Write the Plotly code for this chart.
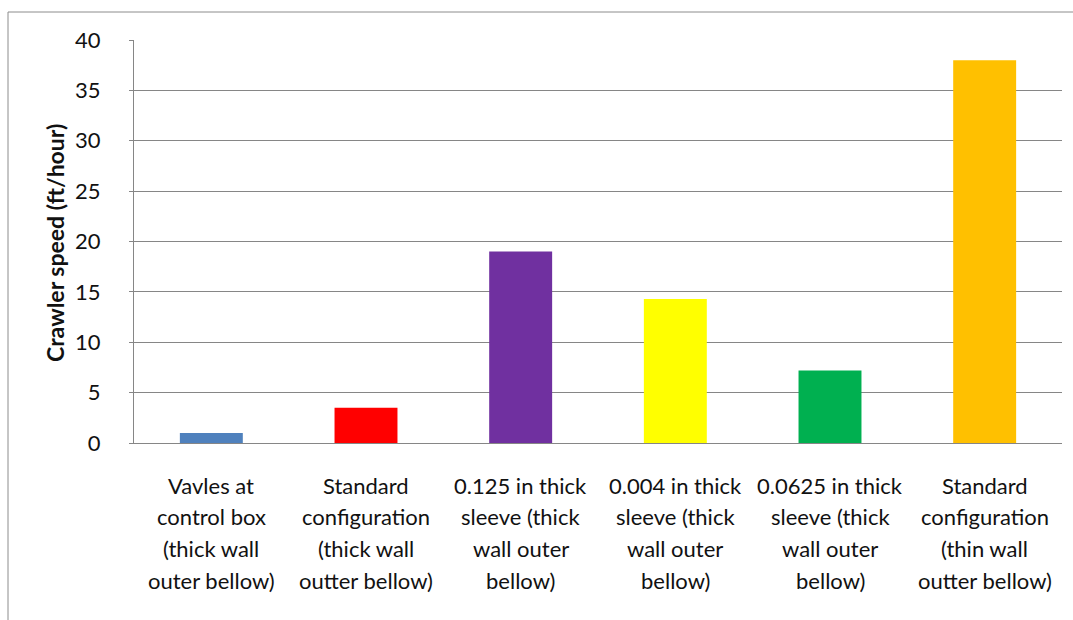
import plotly.graph_objects as go

# Crawler speed for each test configuration
categories = [
    "Vavles at<br>control box<br>(thick wall<br>outer bellow)",
    "Standard<br>configuration<br>(thick wall<br>outter bellow)",
    "0.125 in thick<br>sleeve (thick<br>wall outer<br>bellow)",
    "0.004 in thick<br>sleeve (thick<br>wall outer<br>bellow)",
    "0.0625 in thick<br>sleeve (thick<br>wall outer<br>bellow)",
    "Standard<br>configuration<br>(thin wall<br>outter bellow)",
]
speeds = [1.0, 3.5, 19.0, 14.3, 7.2, 38.0]
bar_colors = ["#4F81BD", "#FF0000", "#7030A0", "#FFFF00", "#00B050", "#FFC000"]
y_ticks = [0, 5, 10, 15, 20, 25, 30, 35, 40]

FONT = "Lato"
TEXT = "#111111"
W, H = 1073, 620
ML, MR, MT, MB = 134, 11, 40, 177
plot_w = W - ML - MR
plot_h = H - MT - MB

fig = go.Figure(
    go.Bar(
        x=categories,
        y=speeds,
        marker=dict(color=bar_colors, line=dict(width=0)),
        hoverinfo="x+y",
    )
)

# Multi-line category labels, one annotation per line for looser line spacing
line_gap = 31.7
first_offset = 42
for cat in categories:
    for i, line in enumerate(cat.split("<br>")):
        fig.add_annotation(
            x=cat, xref="x", y=0, yref="paper",
            text=line, showarrow=False,
            xanchor="center", yanchor="middle",
            yshift=-(first_offset + i * line_gap),
            font=dict(family=FONT, size=22, color=TEXT),
        )

# Rotated y-axis title
fig.add_annotation(
    x=(55 - ML) / plot_w, xref="paper",
    y=(plot_h - (243 - MT)) / plot_h, yref="paper",
    text="<b>Crawler speed (ft/hour)</b>", showarrow=False,
    textangle=-90, xanchor="center", yanchor="middle",
    font=dict(family=FONT, size=23, color=TEXT),
)

# Chart-area frame
fig.add_shape(
    type="rect", xref="paper", yref="paper",
    x0=(8 - ML) / plot_w, x1=(W + 10 - ML) / plot_w,
    y0=-(MB + 10) / plot_h, y1=(H - MB - 12) / plot_h,
    line=dict(color="#8c8c8c", width=1), fillcolor="rgba(0,0,0,0)",
    layer="below",
)

fig.update_layout(
    width=W, height=H,
    margin=dict(l=ML, r=MR, t=MT, b=MB, pad=0),
    paper_bgcolor="white",
    plot_bgcolor="white",
    bargap=0.593,
    showlegend=False,
    font=dict(family=FONT, size=22, color=TEXT),
    xaxis=dict(
        showticklabels=False,
        showline=True, linecolor="#868686", linewidth=1,
        ticks="", showgrid=False, zeroline=False,
    ),
    yaxis=dict(
        range=[0, 40],
        tickvals=y_ticks,
        showgrid=True, gridcolor="#868686", gridwidth=1,
        showline=True, linecolor="#868686", linewidth=1,
        ticks="outside", ticklen=4, tickcolor="#868686",
        ticklabelstandoff=24,
        tickfont=dict(family=FONT, size=22, color=TEXT),
        zeroline=False,
    ),
)

fig.write_html("out.html")
